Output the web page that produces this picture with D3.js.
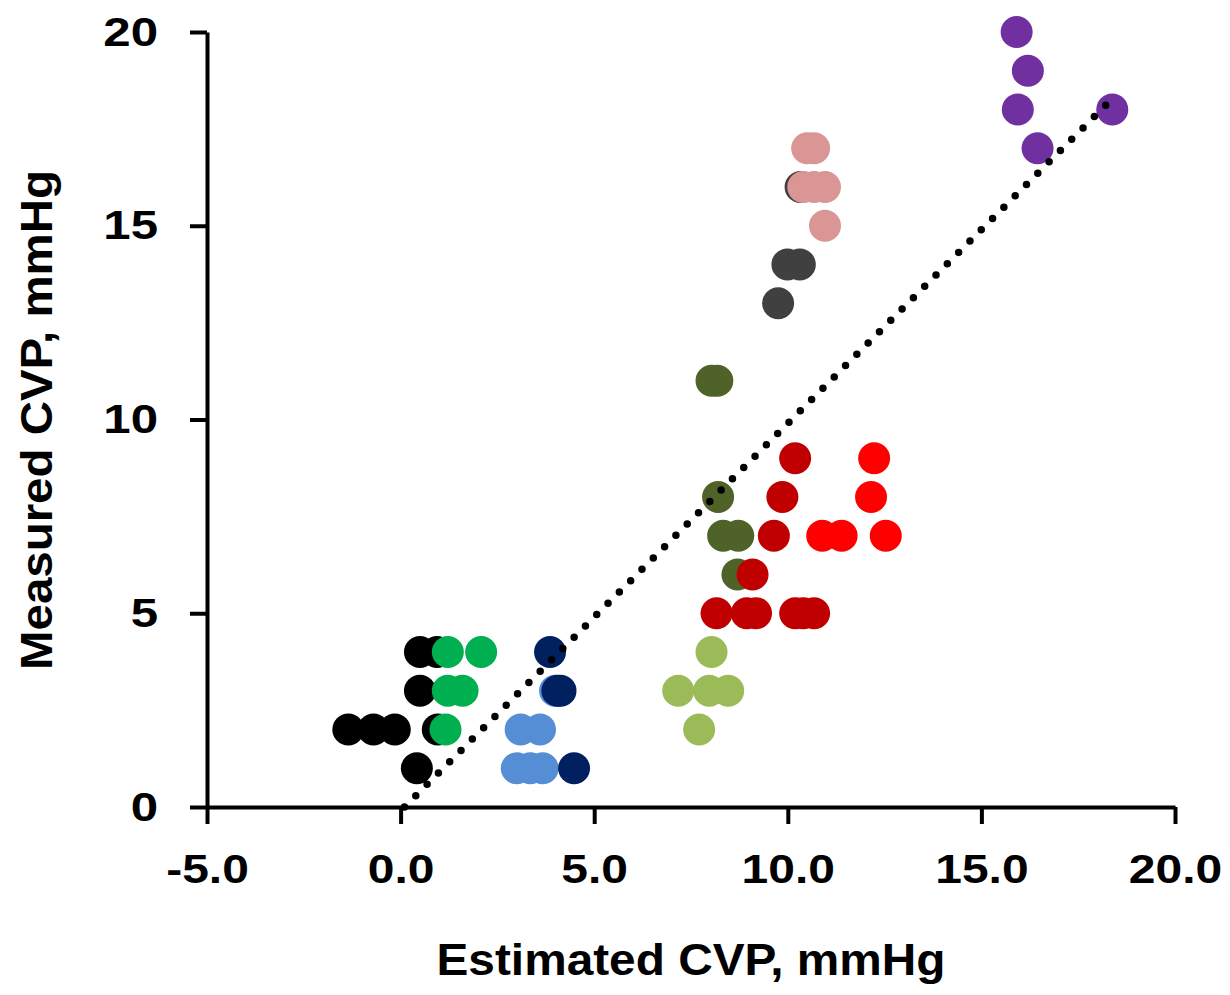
<!DOCTYPE html>
<html>
<head>
<meta charset="utf-8">
<script src="https://cdn.jsdelivr.net/npm/d3@7"></script>
<style>
	body{margin:0;background:#fff;}
	svg{display:block;}
	text{font-family:"Liberation Sans",Arial,sans-serif;font-weight:bold;fill:#000;}
</style>
</head>
<body>
<div id="chart"></div>
<script>
// data: [estimated, measured] per patient group
var blackPts=[[0.5,4],[0.94,4],[0.5,3],[-1.35,2],[-0.7,2],[-0.15,2],[0.96,2],[0.42,1]];
var greenPts=[[1.22,4],[2.08,4],[1.22,3],[1.6,3],[1.16,2]];
var lightBluePts=[[3.1,2],[3.6,2],[3.0,1],[3.35,1],[3.67,1],[3.99,3]];
var navyPts=[[3.86,4],[4.05,3],[4.13,3],[4.48,1]];
var lightGreenPts=[[8.03,4],[7.17,3],[7.97,3],[8.46,3],[7.71,2]];
var olivePts=[[8.03,11],[8.18,11],[8.2,8],[8.33,7],[8.72,7],[8.7,6]];
var darkRedPts=[[10.19,9],[9.86,8],[9.64,7],[9.09,6],[8.16,5],[8.94,5],[9.18,5],[10.19,5],[10.4,5],[10.68,5]];
var redPts=[[12.23,9],[12.15,8],[10.89,7],[11.39,7],[12.53,7]];
var grayPts=[[10.33,16],[9.99,14],[10.31,14],[9.75,13]];
var pinkPts=[[10.5,17],[10.68,17],[10.4,16],[10.68,16],[10.96,16],[10.96,15]];
var purplePts=[[15.91,20],[16.2,19],[15.94,18],[18.38,18],[16.45,17]];

var trendLine=[[0.1,0],[18.3,18.2]];

var xTicks=[-5,0,5,10,15,20];
var yTicks=[0,5,10,15,20];

var seriesList=[blackPts,greenPts,lightBluePts,navyPts,lightGreenPts,olivePts,darkRedPts,redPts,grayPts,pinkPts,purplePts];
var seriesColors=['#000000','#00b050','#558ed5','#002060','#9bbb59','#4f6228','#c00000','#ff0000','#404040','#d99694','#7030a0'];

var width=1230,height=995;
var margin={top:32,right:55,bottom:188,left:207};

var svg=d3.select('#chart')
		.append('svg')
		.attr('width',width)
		.attr('height',height);

var x=d3.scaleLinear()
		.domain([-5,20])
		.range([margin.left,width-margin.right]);
var y=d3.scaleLinear()
		.domain([0,20])
		.range([height-margin.bottom,margin.top]);

//stretch tick labels a bit wider, the source font is broad
function widen(sel,f){
	sel.each(function(){
		var w=this.getComputedTextLength();
		d3.select(this).attr('textLength',w*f).attr('lengthAdjust','spacingAndGlyphs');
	});
}

var xAxis=d3.axisBottom(x)
			.tickValues(xTicks)
			.tickFormat(function(d){return d.toFixed(1)})   // plain hyphen, not unicode minus
			.tickSize(17)
			.tickSizeOuter(0)
			.tickPadding(30);
var yAxis=d3.axisLeft(y)
			.tickValues(yTicks)
			.tickFormat(function(d){return String(d)})
			.tickSize(17)
			.tickSizeOuter(0)
			.tickPadding(32);

var gx=svg.append('g')
		.attr('class','x-axis')
		.attr('transform','translate(0,'+y(0)+')')
		.call(xAxis);
var gy=svg.append('g')
		.attr('class','y-axis')
		.attr('transform','translate('+x(-5)+',0)')
		.call(yAxis);

[gx,gy].forEach(function(g){
	g.select('.domain').attr('stroke','#000').attr('stroke-width',4);
	g.selectAll('.tick line').attr('stroke','#000').attr('stroke-width',4);
	g.selectAll('.tick text')
		.attr('font-size',41)
		.attr('font-family','"Liberation Sans",Arial,sans-serif')
		.attr('font-weight','bold')
		.attr('fill','#000');
});
widen(gx.selectAll('.tick text'),1.17);
widen(gy.selectAll('.tick text'),1.2);

// points, one group per series so later groups sit on top
seriesList.forEach(function(pts,i){
	svg.append('g')
		.selectAll('circle')
		.data(pts)
		.enter()
		.append('circle')
		.attr('cx',function(d){return x(d[0])})
		.attr('cy',function(d){return y(d[1])})
		.attr('r',16)
		.attr('fill',seriesColors[i]);
});

// dotted trend line
svg.append('path')
	.datum(trendLine)
	.attr('d',d3.line().x(function(d){return x(d[0])}).y(function(d){return y(d[1])}))
	.attr('fill','none')
	.attr('stroke','#000')
	.attr('stroke-width',7.5)
	.attr('stroke-linecap','round')
	.attr('stroke-dasharray','0,16');

svg.append('text')
	.attr('x',691)
	.attr('y',975)
	.attr('text-anchor','middle')
	.attr('font-size',44)
	.attr('textLength',509)
	.attr('lengthAdjust','spacingAndGlyphs')
	.text('Estimated CVP, mmHg');

svg.append('text')
	.attr('transform','translate(52,420) rotate(-90)')
	.attr('text-anchor','middle')
	.attr('font-size',44)
	.attr('textLength',500)
	.attr('lengthAdjust','spacingAndGlyphs')
	.text('Measured CVP, mmHg');
</script>
</body>
</html>
